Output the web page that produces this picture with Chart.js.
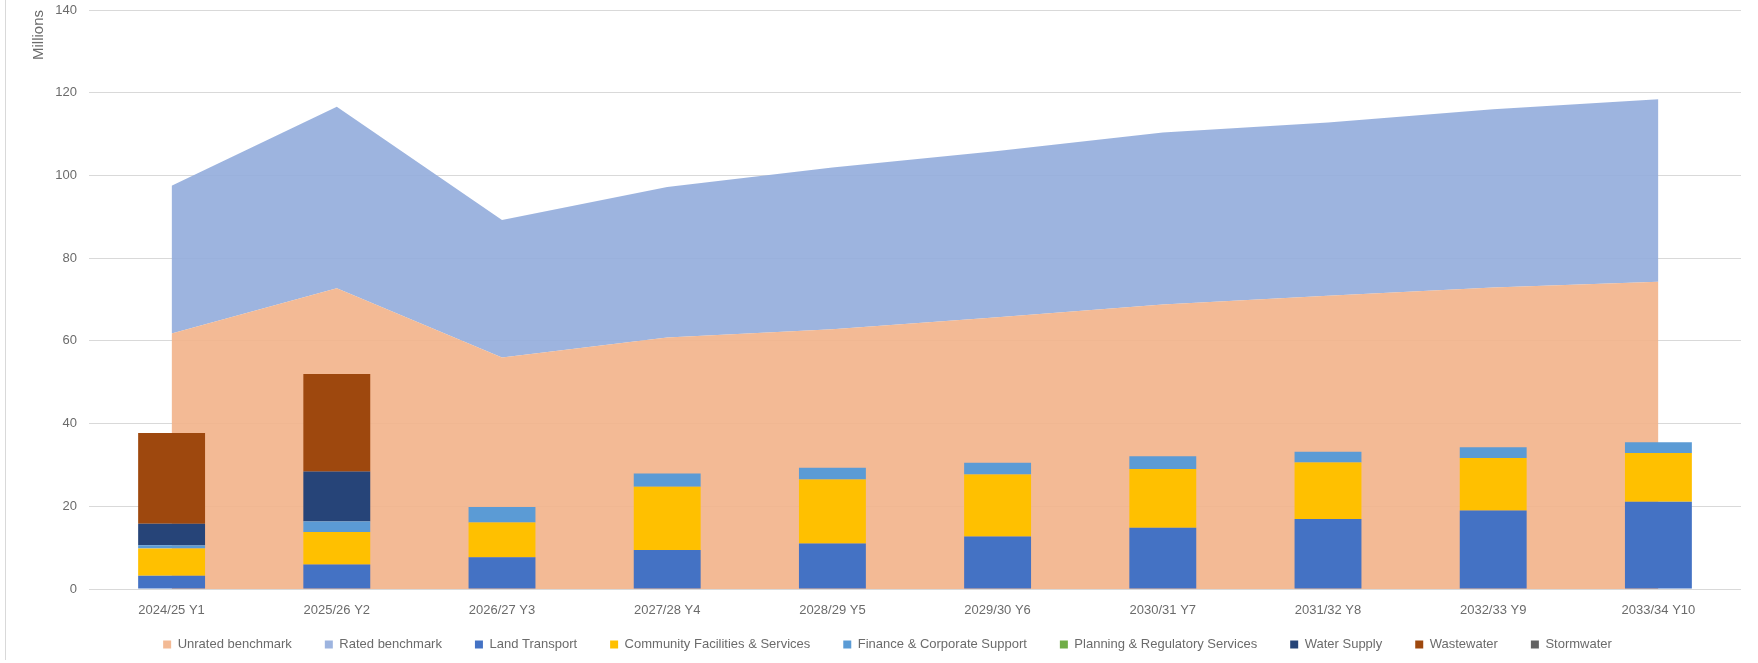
<!DOCTYPE html>
<html>
<head>
<meta charset="utf-8">
<title>Benchmark vs debt by activity</title>
<script src="https://cdn.jsdelivr.net/npm/chart.js@4.4.1/dist/chart.umd.min.js"></script>
<style>
  html, body { margin: 0; padding: 0; background: #fff; }
  #wrap { width: 1758px; height: 663px; }
</style>
</head>
<body>
<div id="wrap"><canvas id="myChart"></canvas></div>
<script>
// Years of the plan
const labels = ['2024/25 Y1', '2025/26 Y2', '2026/27 Y3', '2027/28 Y4', '2028/29 Y5',
    '2029/30 Y6', '2030/31 Y7', '2031/32 Y8', '2032/33 Y9', '2033/34 Y10'];

// Benchmarks (stacked areas, $ millions)
const unratedBenchmark = [61.8, 72.7, 56.0, 60.8, 62.8, 65.7, 68.8, 70.9, 72.9, 74.3];
const ratedBenchmark = [35.7, 43.9, 33.2, 36.4, 39.1, 40.2, 41.6, 41.9, 43.1, 44.1];

// Debt by activity (stacked bars, $ millions)
const landTransport = [3.2, 5.9, 7.7, 9.4, 11.0, 12.7, 14.8, 16.9, 19.0, 21.1];
const communityFacilities = [6.6, 7.9, 8.4, 15.3, 15.5, 15.0, 14.2, 13.7, 12.7, 11.8];
const financeCorporate = [0.8, 2.6, 3.7, 3.2, 2.8, 2.8, 3.1, 2.6, 2.6, 2.6];
const planningRegulatory = [0, 0, 0, 0, 0, 0, 0, 0, 0, 0];
const waterSupply = [5.2, 12.0, 0, 0, 0, 0, 0, 0, 0, 0];
const wastewater = [21.9, 23.6, 0, 0, 0, 0, 0, 0, 0, 0];
const stormwater = [0, 0, 0, 0, 0, 0, 0, 0, 0, 0];

const yTicks = [0, 20, 40, 60, 80, 100, 120, 140];

document.addEventListener('DOMContentLoaded', function () {
    createChart();
});

function area(label, data, color, fill) {
    return {
        type: 'line',
        label: label,
        data: data,
        stack: 'benchmark',
        order: 1,
        backgroundColor: color,
        borderColor: color,
        borderWidth: 0,
        pointRadius: 0,
        tension: 0,
        fill: fill,
    };
}

function bar(label, data, color) {
    return {
        type: 'bar',
        label: label,
        data: data,
        stack: 'debt',
        order: 0,
        backgroundColor: color,
        borderWidth: 0,
        barPercentage: 0.405,
        categoryPercentage: 1,
    };
}

// thin grey frame line down the left edge, and nudge the legend row right a bit
const framePlugin = {
    id: 'frame',
    afterLayout(chart) {
        chart.legend.left += 17;
        chart.legend.right += 17;
    },
    beforeDraw(chart) {
        const ctx = chart.ctx;
        ctx.save();
        ctx.strokeStyle = '#d9d9d9';
        ctx.lineWidth = 1;
        ctx.beginPath();
        ctx.moveTo(5.5, 0);
        ctx.lineTo(5.5, 660);
        ctx.stroke();
        ctx.restore();
    }
};

function createChart() {
    const ctx = document.getElementById('myChart').getContext('2d');
    const font = "'Liberation Sans', Arial, sans-serif";
    const grey = '#6b6b6b';

    new Chart(ctx, {
        data: {
            labels: labels,
            datasets: [
                area('Unrated benchmark', unratedBenchmark, 'rgba(242, 178, 138, 0.9)', 'origin'),
                area('Rated benchmark', ratedBenchmark, 'rgba(146, 172, 219, 0.9)', '-1'),
                bar('Land Transport', landTransport, '#4472C4'),
                bar('Community Facilities & Services', communityFacilities, '#FFC000'),
                bar('Finance & Corporate Support', financeCorporate, '#5B9BD5'),
                bar('Planning & Regulatory Services', planningRegulatory, '#70AD47'),
                bar('Water Supply', waterSupply, '#264478'),
                bar('Wastewater', wastewater, '#9E480E'),
                bar('Stormwater', stormwater, '#636363'),
            ],
        },
        options: {
            responsive: true,
            maintainAspectRatio: false,
            animation: false,
            layout: { padding: { left: 0, right: 17, top: 10, bottom: 2 } },
            plugins: {
                tooltip: { enabled: false },
                legend: {
                    position: 'bottom',
                    labels: {
                        boxWidth: 8,
                        boxHeight: 8,
                        padding: 33,
                        color: grey,
                        font: { family: font, size: 13 },
                        sort: (a, b) => a.datasetIndex - b.datasetIndex,
                    },
                },
            },
            scales: {
                x: {
                    stacked: true,
                    offset: true,
                    grid: { display: false, drawTicks: false },
                    border: { display: false },
                    ticks: { color: grey, font: { family: font, size: 13 }, padding: 14, maxRotation: 0 },
                    afterFit: (scale) => {
                        scale.height = 16;
                        // the labels sit a little below this short box, so don't clip them
                        scale._computeLabelArea = () => undefined;
                    },
                },
                y: {
                    stacked: true,
                    min: 0,
                    max: 140,
                    afterBuildTicks: (scale) => { scale.ticks = yTicks.map(v => ({ value: v })); },
                    grid: { color: '#d9d9d9', drawTicks: false },
                    border: { display: false },
                    ticks: { color: grey, font: { family: font, size: 13 }, padding: 12 },
                    title: {
                        display: true,
                        text: 'Millions',
                        align: 'end',
                        color: grey,
                        font: { family: font, size: 15 },
                        padding: { top: 30, bottom: 0 },
                    },
                    afterFit: (scale) => {
                        scale.width = 89;
                        scale.paddingTop = 0;
                    },
                },
            },
        },
        plugins: [framePlugin],
    });
}
</script>
</body>
</html>
